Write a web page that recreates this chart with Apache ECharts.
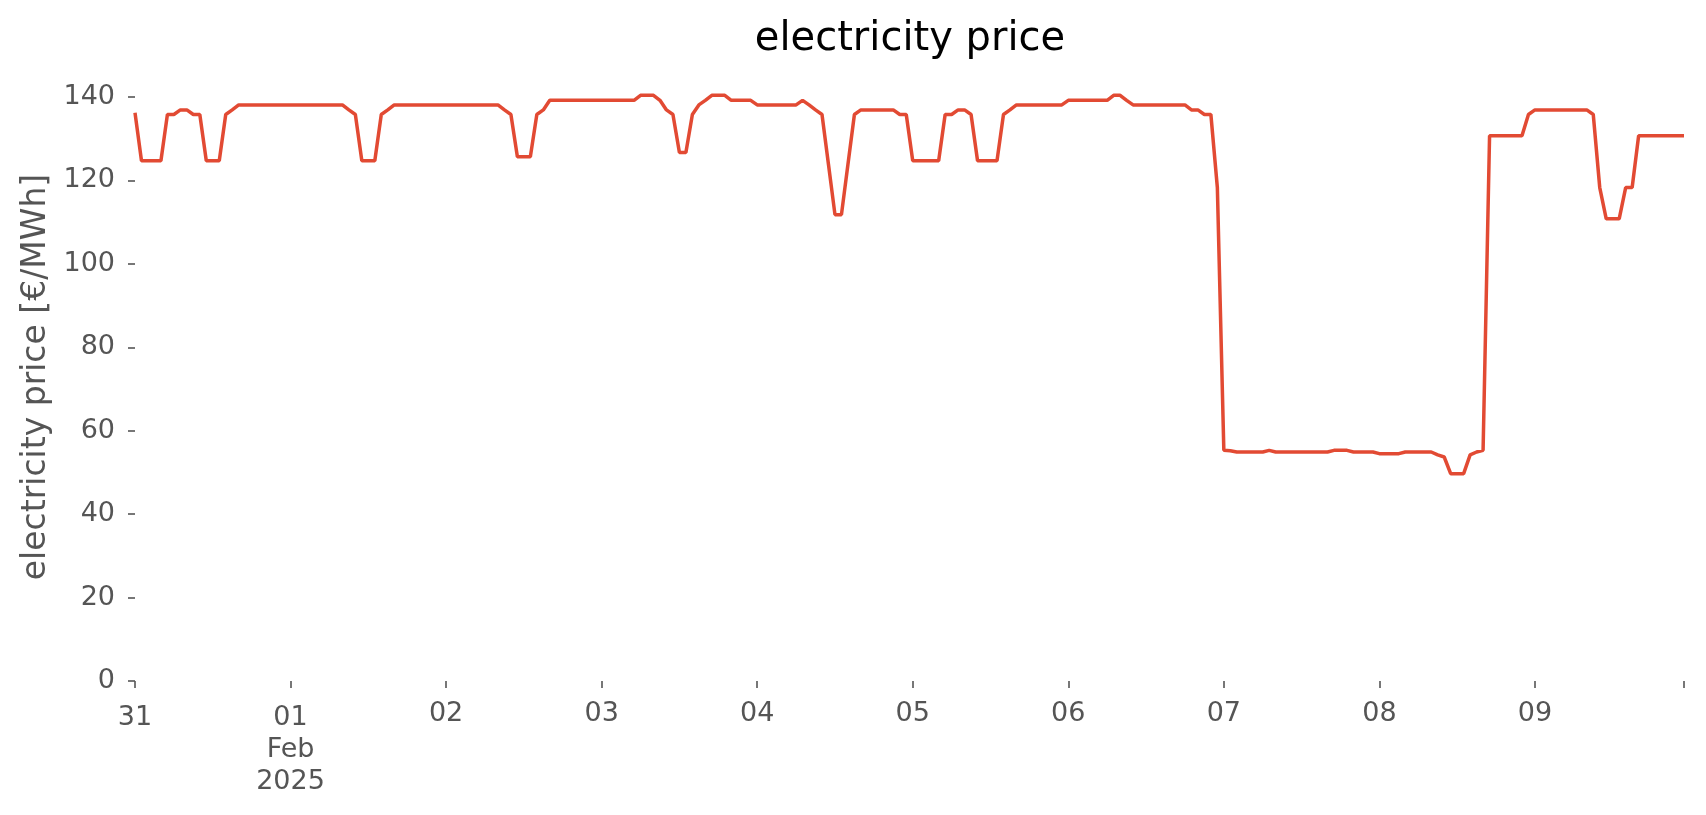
<!DOCTYPE html>
<html><head><meta charset="utf-8">
<script src="https://cdn.jsdelivr.net/npm/echarts@6/dist/echarts.min.js"></script>
<style>html,body{margin:0;padding:0;background:#fff}#c{width:1706px;height:815px}</style>
</head><body><div id="c"></div>
<script>
// x tick labels, one per day (hourly data starting 2025-01-31 00:00)
const dayLabels = ['31', '01\nFeb\n2025', '02', '03', '04', '05', '06', '07', '08', '09'];
// hourly electricity prices [€/MWh], one array per day
const jan31 = [136.2, 124.7, 124.7, 124.7, 124.7, 135.8, 135.8, 136.9, 136.9, 135.8, 135.8, 124.7,
               124.7, 124.7, 135.8, 136.9, 138.1, 138.1, 138.1, 138.1, 138.1, 138.1, 138.1, 138.1];
const feb01 = [138.1, 138.1, 138.1, 138.1, 138.1, 138.1, 138.1, 138.1, 138.1, 136.9, 135.8, 124.7,
               124.7, 124.7, 135.8, 136.9, 138.1, 138.1, 138.1, 138.1, 138.1, 138.1, 138.1, 138.1];
const feb02 = [138.1, 138.1, 138.1, 138.1, 138.1, 138.1, 138.1, 138.1, 138.1, 136.9, 135.8, 125.7,
               125.7, 125.7, 135.8, 136.9, 139.2, 139.2, 139.2, 139.2, 139.2, 139.2, 139.2, 139.2];
const feb03 = [139.2, 139.2, 139.2, 139.2, 139.2, 139.2, 140.4, 140.4, 140.4, 139.2, 136.9, 135.8,
               126.7, 126.7, 135.8, 138.1, 139.2, 140.4, 140.4, 140.4, 139.2, 139.2, 139.2, 139.2];
const feb04 = [138.1, 138.1, 138.1, 138.1, 138.1, 138.1, 138.1, 139.2, 138.1, 136.9, 135.8, 123.8,
               111.8, 111.8, 123.8, 135.8, 136.9, 136.9, 136.9, 136.9, 136.9, 136.9, 135.8, 135.8];
const feb05 = [124.7, 124.7, 124.7, 124.7, 124.7, 135.8, 135.8, 136.9, 136.9, 135.8, 124.7, 124.7,
               124.7, 124.7, 135.8, 136.9, 138.1, 138.1, 138.1, 138.1, 138.1, 138.1, 138.1, 138.1];
const feb06 = [139.2, 139.2, 139.2, 139.2, 139.2, 139.2, 139.2, 140.4, 140.4, 139.2, 138.1, 138.1,
               138.1, 138.1, 138.1, 138.1, 138.1, 138.1, 138.1, 136.9, 136.9, 135.8, 135.8, 118.3];
const feb07 = [55.3, 55.2, 54.9, 54.9, 54.9, 54.9, 54.9, 55.3, 54.9, 54.9, 54.9, 54.9,
               54.9, 54.9, 54.9, 54.9, 54.9, 55.3, 55.3, 55.3, 54.9, 54.9, 54.9, 54.9];
const feb08 = [54.5, 54.5, 54.5, 54.5, 54.9, 54.9, 54.9, 54.9, 54.9, 54.2, 53.7, 49.7,
               49.7, 49.7, 54.2, 54.9, 55.3, 130.7, 130.7, 130.7, 130.7, 130.7, 130.7, 135.8];
const feb09 = [136.9, 136.9, 136.9, 136.9, 136.9, 136.9, 136.9, 136.9, 136.9, 135.8, 118.3, 110.8,
               110.8, 110.8, 118.3, 118.3, 130.7, 130.7, 130.7, 130.7, 130.7, 130.7, 130.7, 130.7];

const prices = [].concat(jan31, feb01, feb02, feb03, feb04, feb05, feb06, feb07, feb08, feb09);
const seriesData = prices.map((v, i) => [i, v]);

const FONT = 'DejaVu Sans';
const chart = echarts.init(document.getElementById('c'), null, {renderer: 'canvas'});
chart.setOption({
  animation: false,
  backgroundColor: '#ffffff',
  title: {
    text: 'electricity price',
    left: 910, top: 20, padding: 0, textAlign: 'center',
    textStyle: {fontFamily: FONT, fontSize: 40, fontWeight: 'normal', color: '#000000'}
  },
  grid: {left: 135, right: 22, top: 97, bottom: 134},
  xAxis: {
    type: 'value', min: 0, max: prices.length - 1, interval: 24,
    axisLine: {show: false},
    splitLine: {show: false},
    axisTick: {show: true, length: 7, lineStyle: {color: '#555555', width: 1.6}},
    axisLabel: {
      show: true, margin: 17, color: '#555555', fontFamily: FONT, fontSize: 27, lineHeight: 32,
      showMinLabel: true, showMaxLabel: true,
      formatter: function (v) {
        if (v % 24 !== 0) return '';
        const i = v / 24;
        const s = dayLabels[i] || '';
        if (i < 2) {
          // pandas draws the first (major) labels a little lower
          return s.split('\n').map(t => '{m|' + t + '}').join('\n');
        }
        return s;
      },
      rich: {
        m: {fontFamily: FONT, fontSize: 27, color: '#555555', lineHeight: 32, padding: [8, 0, 0, 0]}
      }
    }
  },
  yAxis: {
    type: 'value', min: 0, max: 140, interval: 20,
    name: 'electricity price [€/MWh]', nameLocation: 'middle', nameGap: 80,
    nameTextStyle: {fontFamily: FONT, fontSize: 33, color: '#555555', padding: [0, 0, 0, 24]},
    axisLine: {show: false},
    splitLine: {show: false},
    axisTick: {show: true, length: 7, lineStyle: {color: '#555555', width: 1.6}},
    axisLabel: {show: true, margin: 20, color: '#555555', fontFamily: FONT, fontSize: 27}
  },
  series: [{
    type: 'line', data: seriesData, showSymbol: false, clip: false,
    lineStyle: {color: '#E24A33', width: 3.5}
  }]
});
</script></body></html>
